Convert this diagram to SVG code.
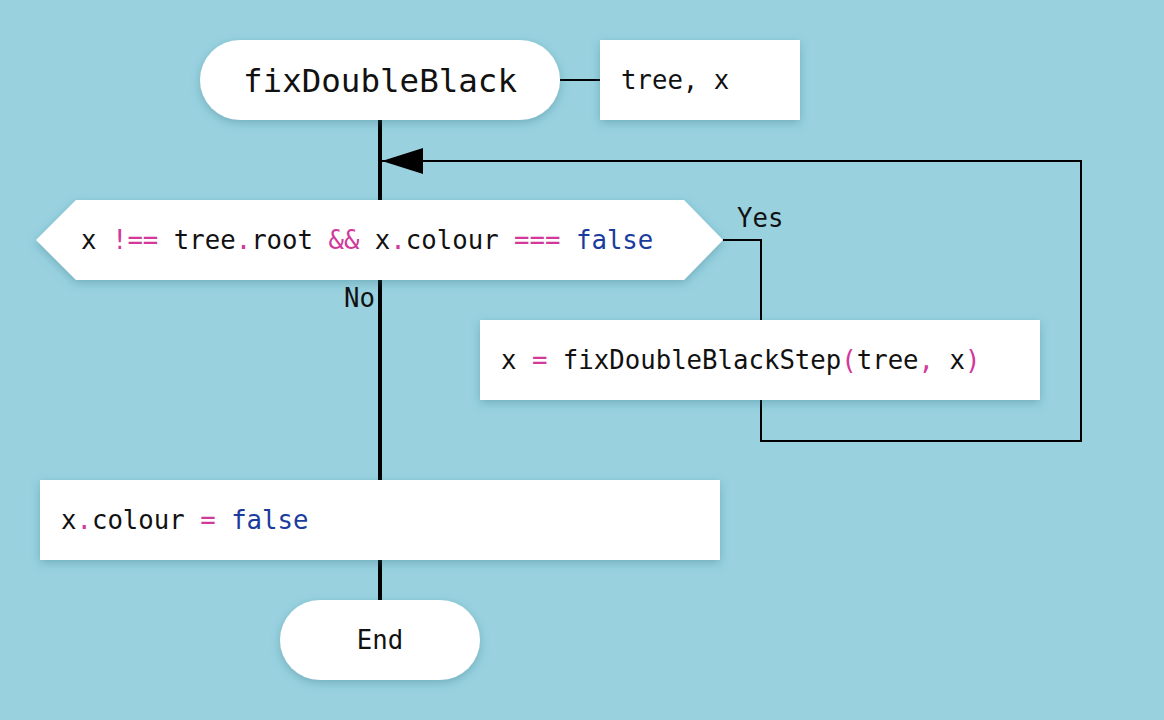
<svg xmlns="http://www.w3.org/2000/svg" width="1164" height="720" viewBox="0 0 1164 720">
<style>
text{font-family:"DejaVu Sans Mono","Liberation Mono",monospace;font-size:25.7px;fill:#111}
.title{font-size:32.5px}
.op{fill:#D1399B}
.kw{fill:#1A3C9C}
.node{fill:#fff;filter:url(#sh)}
.thin{fill:none;stroke:#000;stroke-width:2}
.thick{fill:none;stroke:#000;stroke-width:4}
</style>
<defs>
<filter id="sh" x="-10%" y="-30%" width="120%" height="170%">
<feDropShadow dx="0" dy="3" stdDeviation="5" flood-color="#2b6f80" flood-opacity="0.35"/>
</filter>
<marker id="arr" viewBox="0 0 41 26" refX="41" refY="13" markerWidth="41" markerHeight="26" markerUnits="userSpaceOnUse" orient="auto">
<path d="M0,0 L41,13 L0,26 z" fill="#000"/>
</marker>
</defs>
<rect width="1164" height="720" fill="#99D1DF"/>
<g id="connectors">
<path class="thin" d="M560,80 H600"/>
<path class="thick" d="M380,120 V200"/>
<path class="thick" d="M380,280 V480"/>
<path class="thick" d="M380,560 V600"/>
<path class="thin" d="M723,240 H761 V320"/>
<path class="thin" d="M761,400 V441 H1081 V161 H382" marker-end="url(#arr)"/>
<text x="737" y="227">Yes</text>
<text x="375" y="307" text-anchor="end">No</text>
</g>
<g id="start">
<rect class="node" x="200" y="40" width="360" height="80" rx="40" ry="40"/>
<text class="title" x="380" y="92" text-anchor="middle">fixDoubleBlack</text>
</g>
<g id="params">
<rect class="node" x="600" y="40" width="200" height="80"/>
<text x="621" y="89">tree, x</text>
</g>
<g id="decision">
<polygon class="node" points="36,240 76,200 684,200 723,240 684,280 76,280"/>
<text x="81" y="249" xml:space="preserve">x <tspan class="op">!==</tspan> tree<tspan class="op">.</tspan>root <tspan class="op">&amp;&amp;</tspan> x<tspan class="op">.</tspan>colour <tspan class="op">===</tspan> <tspan class="kw">false</tspan></text>
</g>
<g id="step">
<rect class="node" x="480" y="320" width="560" height="80"/>
<text x="501" y="369" xml:space="preserve">x <tspan class="op">=</tspan> fixDoubleBlackStep<tspan class="op">(</tspan>tree<tspan class="op">,</tspan> x<tspan class="op">)</tspan></text>
</g>
<g id="assign">
<rect class="node" x="40" y="480" width="680" height="80"/>
<text x="61" y="529" xml:space="preserve">x<tspan class="op">.</tspan>colour <tspan class="op">=</tspan> <tspan class="kw">false</tspan></text>
</g>
<g id="end">
<rect class="node" x="280" y="600" width="200" height="80" rx="40" ry="40"/>
<text x="380" y="649" text-anchor="middle">End</text>
</g>
</svg>
